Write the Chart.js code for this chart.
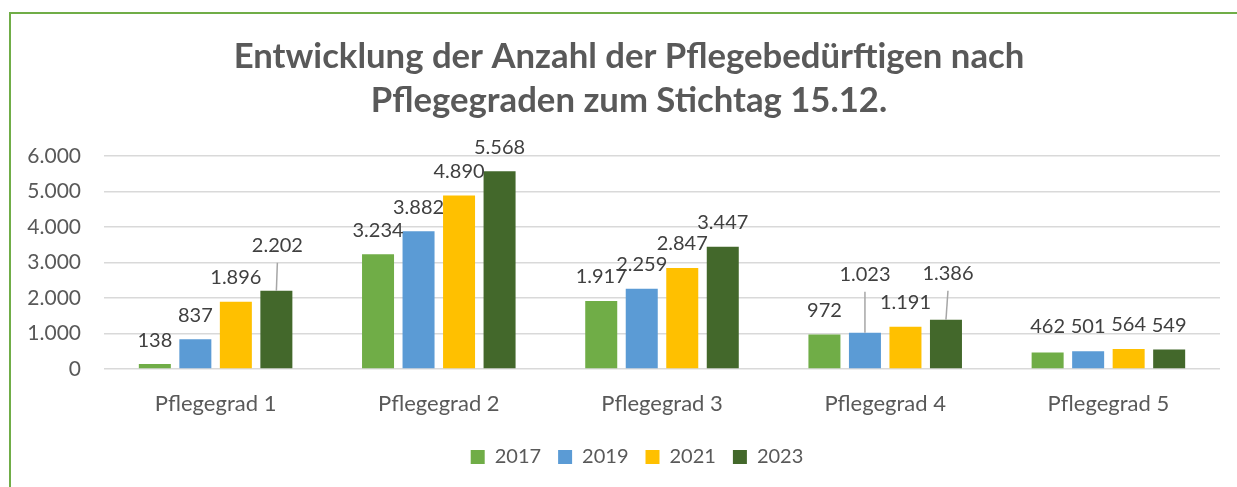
<!DOCTYPE html>
<html>
<head>
<meta charset="utf-8">
<script src="https://cdn.jsdelivr.net/npm/chart.js@4/dist/chart.umd.min.js"></script>
<style>
    html, body { margin: 0; padding: 0; background: #fff; overflow: hidden; }
    #frame {
        position: absolute; left: 9px; top: 12px; width: 1300px; height: 600px;
        border-left: 2px solid #70AD47; border-top: 2px solid #70AD47;
    }
    #myChart { position: absolute; left: 0; top: 0; }
</style>
</head>
<body>
<div id="frame"></div>
<canvas id="myChart" width="1237" height="487"></canvas>
<script>
// Chart data
const categories = ['Pflegegrad 1', 'Pflegegrad 2', 'Pflegegrad 3', 'Pflegegrad 4', 'Pflegegrad 5'];
const years = ['2017', '2019', '2021', '2023'];
const values2017 = [138, 3234, 1917, 972, 462];
const values2019 = [837, 3882, 2259, 1023, 501];
const values2021 = [1896, 4890, 2847, 1191, 564];
const values2023 = [2202, 5568, 3447, 1386, 549];
const yTicks = [0, 1000, 2000, 3000, 4000, 5000, 6000];

const colors = ['#70AD47', '#5B9BD5', '#FFC000', '#43682B'];
const textGray = '#595959';
const fontFamily = 'Lato, "Liberation Sans", sans-serif';

// German thousands separator
function fmt(v) {
    return String(v).replace(/\B(?=(\d{3})+(?!\d))/g, '.');
}

// label nudges (dataset index, data index) -> pixel shift, with leader line
const labelShifts = {
    '3-0': { dx: 1, dy: -21, leader: true },
    '1-3': { dx: 0, dy: -34, leader: true },
    '3-3': { dx: 2, dy: -22, leader: true },
    '0-4': { dx: 0, dy: -2 },
    '1-4': { dx: 0, dy: -1 }
};

const dataLabels = {
    id: 'dataLabels',
    afterLayout(chart) {
        // centre title and legend like the original frame
        chart.titleBlock.left = 38;
        chart.legend.left = 54;
    },
    afterDatasetsDraw(chart) {
        const ctx = chart.ctx;
        ctx.save();
        ctx.font = '20px ' + fontFamily;
        ctx.fillStyle = '#404040';
        ctx.textAlign = 'center';
        ctx.textBaseline = 'middle';
        chart.data.datasets.forEach((ds, i) => {
            const meta = chart.getDatasetMeta(i);
            meta.data.forEach((bar, j) => {
                const shift = labelShifts[i + '-' + j] || { dx: 0, dy: 0 };
                const x = bar.x + shift.dx;
                const y = bar.y - 24 + shift.dy;
                if (shift.leader) {
                    ctx.strokeStyle = '#A6A6A6';
                    ctx.lineWidth = 1.5;
                    ctx.beginPath();
                    ctx.moveTo(bar.x, bar.y);
                    ctx.lineTo(x, y + 17);
                    ctx.stroke();
                }
                ctx.fillText(fmt(ds.data[j]), x, y);
            });
        });
        ctx.restore();
    }
};

const seriesValues = [values2017, values2019, values2021, values2023];

const ctx = document.getElementById('myChart').getContext('2d');
const chart = new Chart(ctx, {
    type: 'bar',
    data: {
        labels: categories,
        datasets: years.map((y, i) => ({
            label: y,
            data: seriesValues[i],
            backgroundColor: colors[i],
            borderWidth: 0,
            categoryPercentage: 0.726,
            barPercentage: 0.79
        }))
    },
    options: {
        responsive: false,
        animation: false,
        devicePixelRatio: 1,
        layout: {
            padding: { left: 0, right: 17, top: 0, bottom: 10 }
        },
        plugins: {
            title: {
                display: true,
                text: ['Entwicklung der Anzahl der Pflegebedürftigen nach', 'Pflegegraden zum Stichtag 15.12.'],
                color: textGray,
                font: { family: fontFamily, size: 34.7, weight: 'bold', lineHeight: 1.268 },
                padding: { top: 35, bottom: 33 }
            },
            legend: {
                position: 'bottom',
                labels: {
                    boxWidth: 14,
                    boxHeight: 14,
                    padding: 17,
                    color: textGray,
                    font: { family: fontFamily, size: 20 }
                }
            },
            tooltip: { enabled: false }
        },
        scales: {
            x: {
                afterFit(scale) { scale.height = 61; },
                grid: { display: false, drawTicks: false },
                border: { display: false },
                ticks: {
                    color: textGray,
                    padding: 22,
                    font: { family: fontFamily, size: 22 }
                }
            },
            y: {
                min: 0,
                max: 6000,
                afterFit(scale) { scale.width = 104; },
                afterBuildTicks(scale) { scale.ticks = yTicks.map(v => ({ value: v })); },
                grid: { color: '#D9D9D9', lineWidth: 1.5, drawTicks: false },
                border: { display: false },
                ticks: {
                    color: textGray,
                    padding: 23,
                    font: { family: fontFamily, size: 21 },
                    callback: v => fmt(v)
                }
            }
        }
    },
    plugins: [dataLabels]
});
</script>
</body>
</html>
